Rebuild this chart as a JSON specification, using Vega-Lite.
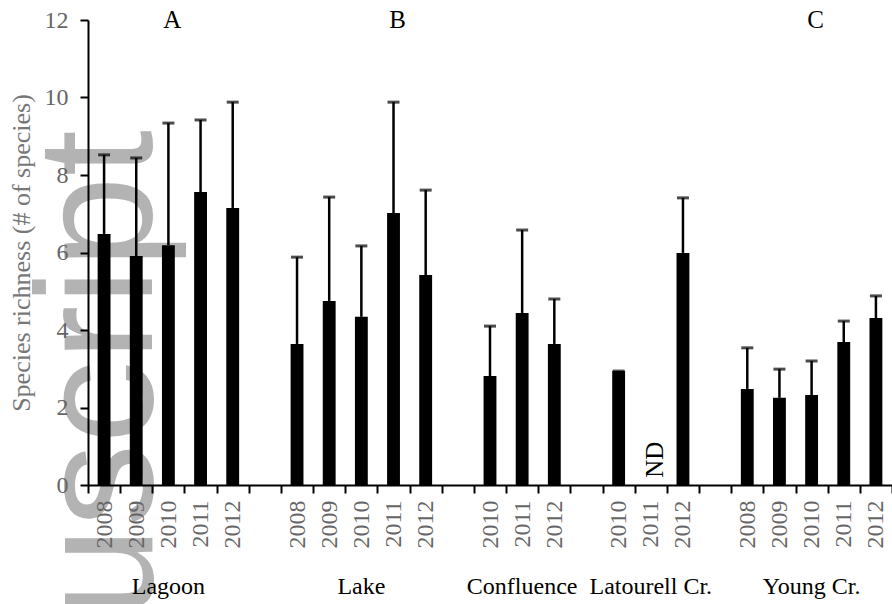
{
  "$schema": "https://vega.github.io/schema/vega-lite/v6.json",
  "autosize": {"type": "none"},
  "width": 804,
  "height": 465,
  "padding": {"left": 88, "top": 20, "right": 0, "bottom": 119},
  "background": "white",
  "config": {"view": {"stroke": null}, "font": "Times New Roman"},
  "datasets": {
    "bars": [
      {"slot": "Lagoon|2008", "mean": 6.48, "upper": 8.52},
      {"slot": "Lagoon|2009", "mean": 5.91, "upper": 8.44},
      {"slot": "Lagoon|2010", "mean": 6.19, "upper": 9.34},
      {"slot": "Lagoon|2011", "mean": 7.56, "upper": 9.42},
      {"slot": "Lagoon|2012", "mean": 7.15, "upper": 9.88},
      {"slot": "Lake|2008", "mean": 3.64, "upper": 5.88},
      {"slot": "Lake|2009", "mean": 4.75, "upper": 7.43},
      {"slot": "Lake|2010", "mean": 4.34, "upper": 6.17},
      {"slot": "Lake|2011", "mean": 7.02, "upper": 9.88},
      {"slot": "Lake|2012", "mean": 5.42, "upper": 7.61},
      {"slot": "Confluence|2010", "mean": 2.81, "upper": 4.10},
      {"slot": "Confluence|2011", "mean": 4.44, "upper": 6.58},
      {"slot": "Confluence|2012", "mean": 3.64, "upper": 4.80},
      {"slot": "Latourell Cr.|2010", "mean": 2.94, "upper": 2.94},
      {"slot": "Latourell Cr.|2012", "mean": 5.99, "upper": 7.41},
      {"slot": "Young Cr.|2008", "mean": 2.48, "upper": 3.54},
      {"slot": "Young Cr.|2009", "mean": 2.25, "upper": 2.99},
      {"slot": "Young Cr.|2010", "mean": 2.32, "upper": 3.20},
      {"slot": "Young Cr.|2011", "mean": 3.69, "upper": 4.23},
      {"slot": "Young Cr.|2012", "mean": 4.31, "upper": 4.88}
    ],
    "letters": [
      {"slot": "Lagoon|2010", "y": 12, "label": "A"},
      {"slot": "Lake|2011", "y": 12, "label": "B"},
      {"slot": "Young Cr.|2010", "y": 12, "label": "C"}
    ],
    "sites": [
      {"slot": "Lagoon|2010", "y": -2.63, "label": "Lagoon"},
      {"slot": "Lake|2010", "y": -2.63, "label": "Lake"},
      {"slot": "Confluence|2011", "y": -2.63, "label": "Confluence"},
      {"slot": "Latourell Cr.|2011", "y": -2.63, "label": "Latourell Cr."},
      {"slot": "Young Cr.|2010", "y": -2.63, "label": "Young Cr."}
    ],
    "nd": [
      {"slot": "Latourell Cr.|2011", "y": 0.65, "label": "ND"}
    ],
    "watermark": [
      {"slot": "Lagoon|2010", "y": 9.16, "label": "uscript"}
    ]
  },
  "encoding": {
    "x": {
      "field": "slot",
      "type": "nominal",
      "sort": null,
      "scale": {
        "type": "band",
        "paddingInner": 0,
        "paddingOuter": 0,
        "domain": [
          "Lagoon|2008", "Lagoon|2009", "Lagoon|2010", "Lagoon|2011", "Lagoon|2012", "g1",
          "Lake|2008", "Lake|2009", "Lake|2010", "Lake|2011", "Lake|2012", "g2",
          "Confluence|2010", "Confluence|2011", "Confluence|2012", "g3",
          "Latourell Cr.|2010", "Latourell Cr.|2011", "Latourell Cr.|2012", "g4",
          "Young Cr.|2008", "Young Cr.|2009", "Young Cr.|2010", "Young Cr.|2011", "Young Cr.|2012"
        ]
      },
      "axis": {
        "title": null,
        "zindex": 1,
        "labelExpr": "isString(datum.value) && indexof(datum.value, '|') >= 0 ? slice(datum.value, -4) : ''",
        "labelAngle": 270,
        "labelAlign": "right",
        "labelBaseline": "middle",
        "labelFont": "Times New Roman",
        "labelFontSize": 24,
        "labelColor": "#666666",
        "labelPadding": 7,
        "tickBand": "extent",
        "tickColor": "black",
        "tickWidth": 2,
        "tickSize": 8,
        "domainColor": "black",
        "domainWidth": 2
      }
    },
    "y": {
      "field": "mean",
      "type": "quantitative",
      "scale": {"domain": [0, 12], "nice": false},
      "axis": {
        "title": "Species richness (# of species)",
        "zindex": 1,
        "values": [0, 2, 4, 6, 8, 10, 12],
        "grid": false,
        "titleFont": "Times New Roman",
        "titleFontSize": 26,
        "titleFontWeight": "normal",
        "titleColor": "#777777",
        "titlePadding": 10,
        "labelFont": "Times New Roman",
        "labelFontSize": 24,
        "labelColor": "#666666",
        "labelPadding": 12,
        "tickColor": "black",
        "tickWidth": 2,
        "tickSize": 8,
        "domainColor": "black",
        "domainWidth": 2
      }
    }
  },
  "layer": [
    {
      "data": {"name": "watermark"},
      "mark": {"type": "text", "angle": 270, "align": "right", "baseline": "alphabetic", "font": "Liberation Sans", "fontSize": 166, "color": "#b3b3b3"},
      "encoding": {
        "x": {"field": "slot", "type": "nominal", "bandPosition": 0},
        "y": {"field": "y", "type": "quantitative"},
        "text": {"field": "label"}
      }
    },
    {
      "data": {"name": "bars"},
      "mark": {"type": "bar", "color": "black", "width": {"band": 0.4}}
    },
    {
      "data": {"name": "bars"},
      "mark": {"type": "rule", "color": "black", "strokeWidth": 2.5},
      "encoding": {
        "y2": {"field": "upper"}
      }
    },
    {
      "data": {"name": "bars"},
      "mark": {"type": "tick", "color": "black", "size": 12, "thickness": 3, "orient": "horizontal"},
      "encoding": {
        "y": {"field": "upper", "type": "quantitative"}
      }
    },
    {
      "data": {"name": "letters"},
      "mark": {"type": "text", "font": "Times New Roman", "fontSize": 25, "color": "black", "baseline": "middle", "dx": 4},
      "encoding": {
        "y": {"field": "y", "type": "quantitative"},
        "text": {"field": "label"}
      }
    },
    {
      "data": {"name": "sites"},
      "mark": {"type": "text", "font": "Times New Roman", "fontSize": 24, "color": "black", "baseline": "middle"},
      "encoding": {
        "y": {"field": "y", "type": "quantitative"},
        "text": {"field": "label"}
      }
    },
    {
      "data": {"name": "nd"},
      "mark": {"type": "text", "font": "Times New Roman", "fontSize": 25, "color": "black", "baseline": "middle", "align": "center", "angle": 270, "dy": 4},
      "encoding": {
        "y": {"field": "y", "type": "quantitative"},
        "text": {"field": "label"}
      }
    }
  ]
}
